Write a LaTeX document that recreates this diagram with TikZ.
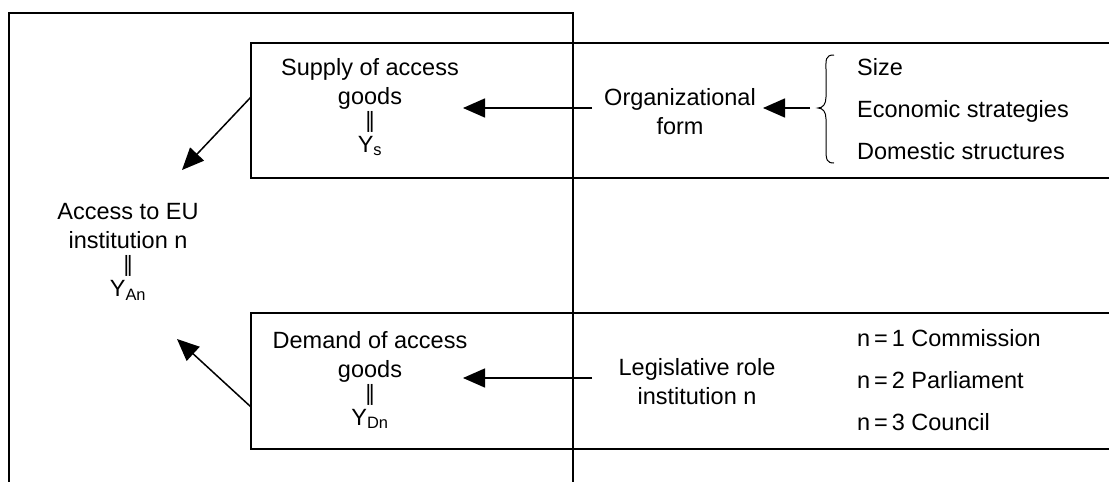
\documentclass[tikz,border=0pt]{standalone}
\usepackage{fontspec}
\setmainfont{Liberation Sans}
\newfontfamily\dejavu{DejaVu Sans}
\usetikzlibrary{arrows.meta}
\begin{document}
\begin{tikzpicture}[x=1pt,y=-1pt,
  line/.style={line width=1.6pt},
  arr/.style={line width=1.5pt,-{Triangle[length=22pt,width=19pt]}},
  txt/.style={align=center,inner sep=0pt,font=\fontsize{23.5}{29}\selectfont},
  lst/.style={align=left,anchor=west,inner sep=0pt,font=\fontsize{23.5}{29}\selectfont}]
\newcommand{\vbar}{\raisebox{0pt}{\dejavu\fontsize{21}{21}\selectfont ‖}}
\useasboundingbox (0,0) rectangle (1109,482);
% outer frame (open at bottom)
\draw[line] (9,482) |- (573,13) -- (573,482);
% supply box (open at right)
\draw[line] (1109,43) -| (251,178) -- (1109,178);
% demand box (open at right)
\draw[line] (1109,313) -| (251,449) -- (1109,449);
% texts
\node[txt] (supply) at (370,107) {Supply of access\\goods\\[-6pt]\vbar\\[-4pt]Y\textsubscript{s}};
\node[txt] (access) at (128,252) {Access to EU\\institution n\\[-6pt]\vbar\\[-4pt]Y\textsubscript{An}};
\node[txt] (demand) at (370,380) {Demand of access\\goods\\[-6pt]\vbar\\[-4pt]Y\textsubscript{Dn}};
\node[txt] (org) at (680,112) {Organizational\\form};
\node[txt] (leg) at (697,382) {Legislative role\\institution n};
\node[lst] (fac) at (857,109) {Size\\[13pt]Economic strategies\\[13pt]Domestic structures};
\node[lst] (inst) at (857,380) {n\,=\,1 Commission\\[13pt]n\,=\,2 Parliament\\[13pt]n\,=\,3 Council};
% connector end points
\coordinate (s-out) at (251,97);
\coordinate (a-in1) at (182,170);
\coordinate (d-out) at (251,407);
\coordinate (a-in2) at (177,339);
\coordinate (o-out) at (592,108);
\coordinate (s-in) at (463,108);
\coordinate (f-out) at (810,108);
\coordinate (o-in) at (763,108);
\coordinate (l-out) at (592,378);
\coordinate (d-in) at (463,378);
% brace
\draw[line width=1pt] (834,55) .. controls (825,55) and (826,60) .. (826,70) -- (826,97)
  .. controls (826,104) and (823,108) .. (818,108)
  .. controls (823,108) and (826,112) .. (826,119) -- (826,150)
  .. controls (826,160) and (827,163) .. (834,163);
% arrows
\draw[arr] (s-out) -- (a-in1);
\draw[arr] (d-out) -- (a-in2);
\draw[arr] (o-out) -- (s-in);
\draw[arr] (f-out) -- (o-in);
\draw[arr] (l-out) -- (d-in);
\end{tikzpicture}
\end{document}
